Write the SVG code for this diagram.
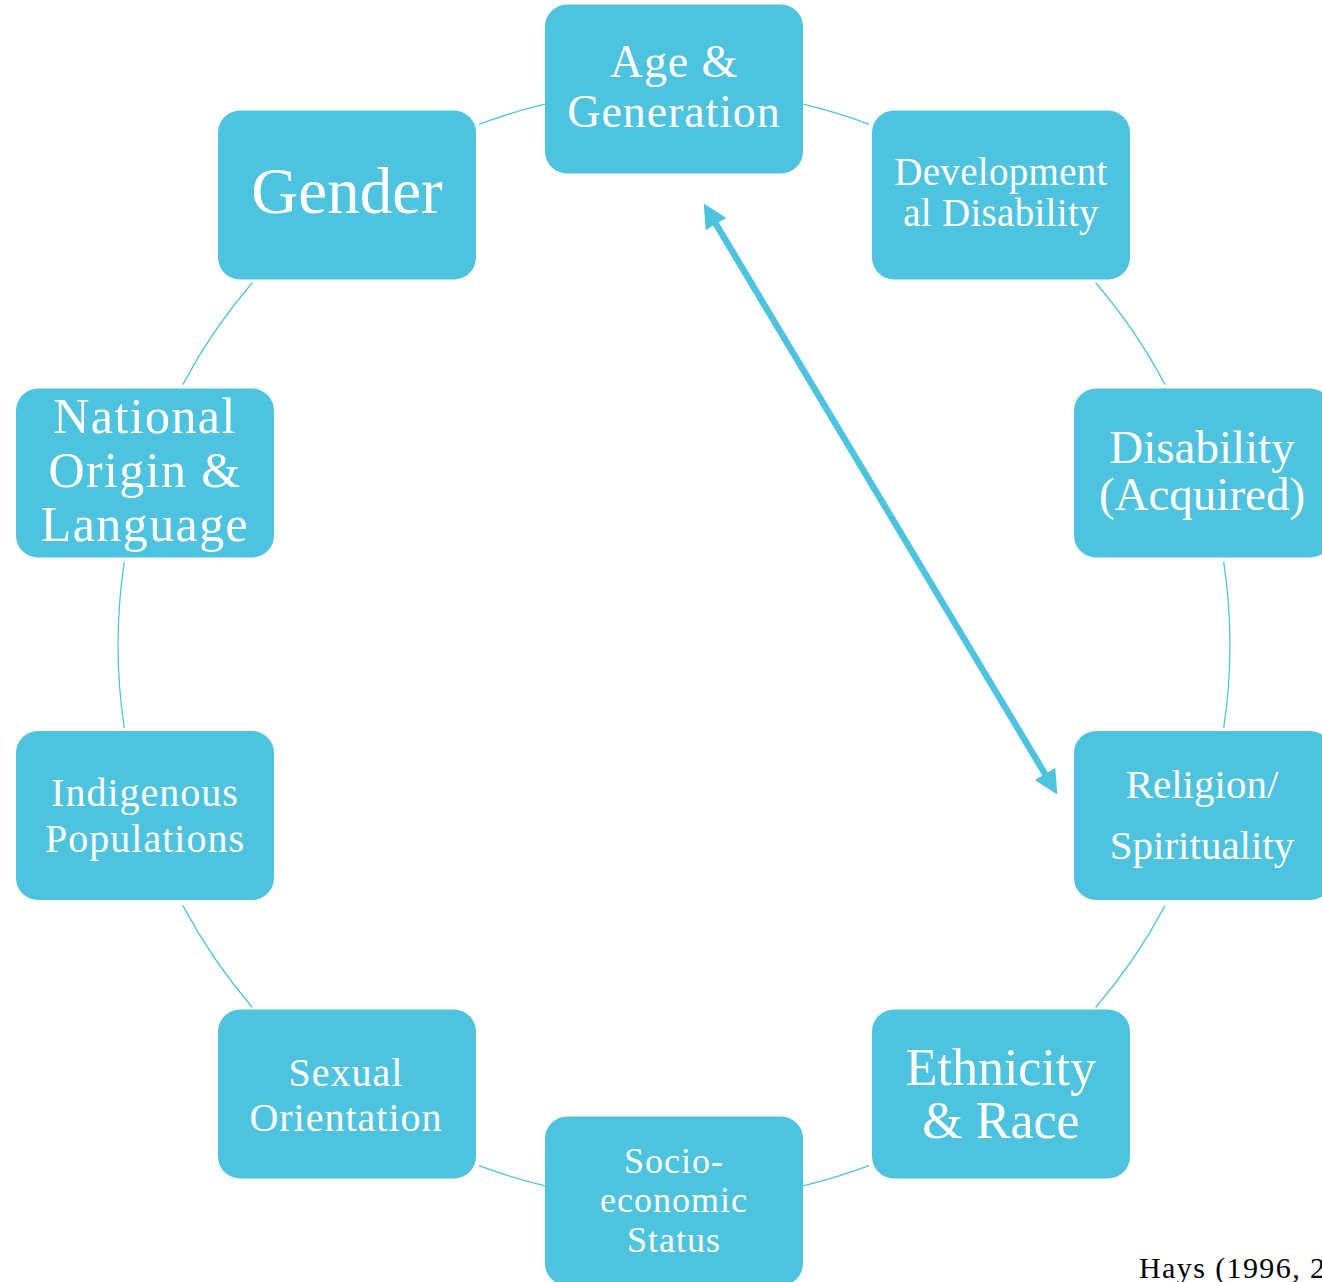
<svg xmlns="http://www.w3.org/2000/svg" width="1322" height="1282" viewBox="0 0 1322 1282">
<style>
.node{fill:#4EC3E0;}
.t{fill:#ffffff;font-family:"Liberation Serif","Times New Roman",serif;text-anchor:middle;}
.arc{fill:none;stroke:#4EC3E0;stroke-width:1.3;}
.arrow{fill:none;stroke:#4EC3E0;stroke-width:6.5;}
</style>
<defs>
<marker id="ah" markerUnits="userSpaceOnUse" markerWidth="24" markerHeight="24" refX="9" refY="12" orient="auto-start-reverse" viewBox="0 0 24 24">
<path d="M0,0 L24,12 L0,24 z" fill="#4EC3E0"/>
</marker>
</defs>
<rect width="1322" height="1282" fill="#ffffff"/>
<g id="connectors">
<path class="arc" d="M803.2,104.2 A556,556 0 0 1 869.0,124.3"/>
<path class="arc" d="M1095.6,282.5 A556,556 0 0 1 1165.2,384.6"/>
<path class="arc" d="M1223.7,561.9 A556,556 0 0 1 1223.7,728.1"/>
<path class="arc" d="M1165.2,905.4 A556,556 0 0 1 1095.6,1007.5"/>
<path class="arc" d="M869.0,1165.7 A556,556 0 0 1 803.2,1185.8"/>
<path class="arc" d="M544.8,1185.8 A556,556 0 0 1 479.0,1165.7"/>
<path class="arc" d="M252.4,1007.5 A556,556 0 0 1 182.8,905.4"/>
<path class="arc" d="M124.3,728.1 A556,556 0 0 1 124.3,561.9"/>
<path class="arc" d="M182.8,384.6 A556,556 0 0 1 252.4,282.5"/>
<path class="arc" d="M479.0,124.3 A556,556 0 0 1 544.8,104.2"/>
<line class="arrow" x1="711.4" y1="216.4" x2="1049.6" y2="781.6" marker-start="url(#ah)" marker-end="url(#ah)"/>
</g>
<g id="node-age">
<rect class="node" x="545" y="4.5" width="258" height="169" rx="22"/>
<text class="t" font-size="46" letter-spacing="0.9"><tspan x="674" y="77">Age &amp;</tspan><tspan x="674" y="127">Generation</tspan></text>
</g>
<g id="node-developmental">
<rect class="node" x="872" y="110.5" width="258" height="169" rx="22"/>
<text class="t" font-size="39" letter-spacing="0.3"><tspan x="1001" y="184.5">Development</tspan><tspan x="1001" y="225.5">al Disability</tspan></text>
</g>
<g id="node-disability">
<rect class="node" x="1074" y="388.5" width="258" height="169" rx="22"/>
<text class="t" font-size="47"><tspan x="1202" y="463">Disability</tspan><tspan x="1202" y="510">(Acquired)</tspan></text>
</g>
<g id="node-religion">
<rect class="node" x="1074" y="731" width="258" height="169" rx="22"/>
<text class="t" font-size="41"><tspan x="1202" y="798">Religion/</tspan><tspan x="1202" y="859">Spirituality</tspan></text>
</g>
<g id="node-ethnicity">
<rect class="node" x="872" y="1009.5" width="258" height="169" rx="22"/>
<text class="t" font-size="52"><tspan x="1001" y="1085">Ethnicity</tspan><tspan x="1001" y="1138">&amp; Race</tspan></text>
</g>
<g id="node-socioeconomic">
<rect class="node" x="545" y="1116.5" width="258" height="169" rx="22"/>
<text class="t" font-size="36" letter-spacing="1"><tspan x="674" y="1173">Socio-</tspan><tspan x="674" y="1212">economic</tspan><tspan x="674" y="1252">Status</tspan></text>
</g>
<g id="node-sexual">
<rect class="node" x="218" y="1009.5" width="258" height="169" rx="22"/>
<text class="t" font-size="40" letter-spacing="1"><tspan x="346" y="1086">Sexual</tspan><tspan x="346" y="1131">Orientation</tspan></text>
</g>
<g id="node-indigenous">
<rect class="node" x="16" y="731" width="258" height="169" rx="22"/>
<text class="t" font-size="40" letter-spacing="1"><tspan x="145" y="806">Indigenous</tspan><tspan x="145" y="852">Populations</tspan></text>
</g>
<g id="node-national">
<rect class="node" x="16" y="388.5" width="258" height="169" rx="22"/>
<text class="t" font-size="50" letter-spacing="1.4"><tspan x="145" y="433">National</tspan><tspan x="145" y="487">Origin &amp;</tspan><tspan x="145" y="541">Language</tspan></text>
</g>
<g id="node-gender">
<rect class="node" x="218" y="110.5" width="258" height="169" rx="22"/>
<text class="t" font-size="65"><tspan x="347" y="213">Gender</tspan></text>
</g>
<text x="1139" y="1278" font-family="'Liberation Serif','Times New Roman',serif" font-size="30" letter-spacing="1.4" fill="#000000">Hays (1996, 20</text>
</svg>
